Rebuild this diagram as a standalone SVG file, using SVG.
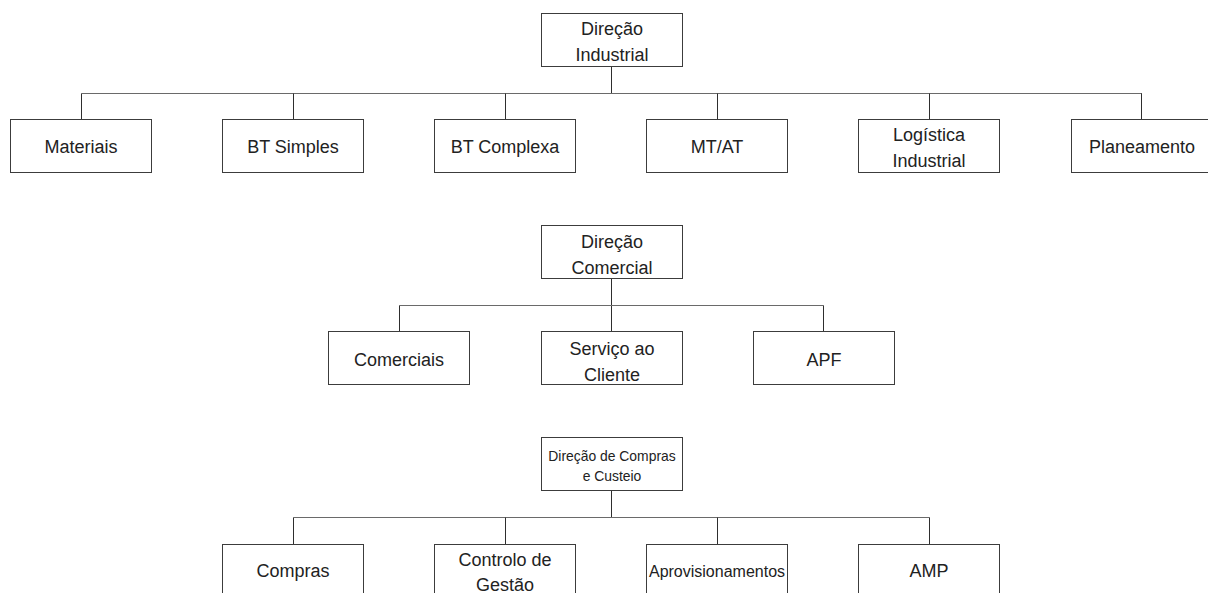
<svg xmlns="http://www.w3.org/2000/svg" width="1208" height="593" viewBox="0 0 1208 593">
<style>
.box{fill:#ffffff;stroke:#3c3c3c;stroke-width:1}
.t{font-family:"Liberation Sans",Arial,sans-serif;font-size:18px;fill:#222222;text-anchor:middle}
.ts{font-size:13.9px}
.tm{font-size:16px}
.h{stroke:#6a6a6a;stroke-width:1;fill:none}
.v{stroke:#2e2e2e;stroke-width:1;fill:none}
</style>
<rect width="1208" height="593" fill="#ffffff"/>
<g id="connectors">
<line class="v" x1="611.5" y1="66.5" x2="611.5" y2="93.5"/>
<line class="h" x1="81.5" y1="93.5" x2="1142" y2="93.5"/>
<line class="v" x1="81.5" y1="93.5" x2="81.5" y2="119.5"/>
<line class="v" x1="293.5" y1="93.5" x2="293.5" y2="119.5"/>
<line class="v" x1="505.5" y1="93.5" x2="505.5" y2="119.5"/>
<line class="v" x1="717.5" y1="93.5" x2="717.5" y2="119.5"/>
<line class="v" x1="929.5" y1="93.5" x2="929.5" y2="119.5"/>
<line class="v" x1="1141.5" y1="93.5" x2="1141.5" y2="119.5"/>
<line class="v" x1="611.5" y1="278.5" x2="611.5" y2="331.5"/>
<line class="h" x1="399.5" y1="305.5" x2="823.5" y2="305.5"/>
<line class="v" x1="399.5" y1="305.5" x2="399.5" y2="331.5"/>
<line class="v" x1="823.5" y1="305.5" x2="823.5" y2="331.5"/>
<line class="v" x1="611.5" y1="490.5" x2="611.5" y2="517.5"/>
<line class="h" x1="293.5" y1="517.5" x2="929.5" y2="517.5"/>
<line class="v" x1="293.5" y1="517.5" x2="293.5" y2="544.5"/>
<line class="v" x1="505.5" y1="517.5" x2="505.5" y2="544.5"/>
<line class="v" x1="717.5" y1="517.5" x2="717.5" y2="544.5"/>
<line class="v" x1="929.5" y1="517.5" x2="929.5" y2="544.5"/>
</g>
<g id="direcao-industrial">
<rect class="box" x="541.5" y="13.5" width="141" height="53"/>
<text class="t" x="612" y="35">Direção</text>
<text class="t" x="612" y="61">Industrial</text>
</g>
<g id="materiais">
<rect class="box" x="10.5" y="119.5" width="141" height="53"/>
<text class="t" x="81" y="153">Materiais</text>
</g>
<g id="bt-simples">
<rect class="box" x="222.5" y="119.5" width="141" height="53"/>
<text class="t" x="293" y="153">BT Simples</text>
</g>
<g id="bt-complexa">
<rect class="box" x="434.5" y="119.5" width="141" height="53"/>
<text class="t" x="505" y="153">BT Complexa</text>
</g>
<g id="mt-at">
<rect class="box" x="646.5" y="119.5" width="141" height="53"/>
<text class="t" x="717" y="153">MT/AT</text>
</g>
<g id="logistica-industrial">
<rect class="box" x="858.5" y="119.5" width="141" height="53"/>
<text class="t" x="929" y="141">Logística</text>
<text class="t" x="929" y="167">Industrial</text>
</g>
<g id="planeamento">
<rect class="box" x="1071.5" y="119.5" width="141" height="53"/>
<text class="t" x="1142" y="153">Planeamento</text>
</g>
<g id="direcao-comercial">
<rect class="box" x="541.5" y="225.5" width="141" height="53"/>
<text class="t" x="612" y="247.5">Direção</text>
<text class="t" x="612" y="273.5">Comercial</text>
</g>
<g id="comerciais">
<rect class="box" x="328.5" y="331.5" width="141" height="53"/>
<text class="t" x="399" y="365.5">Comerciais</text>
</g>
<g id="servico-cliente">
<rect class="box" x="541.5" y="331.5" width="141" height="53"/>
<text class="t" x="612" y="354.5">Serviço ao</text>
<text class="t" x="612" y="380.5">Cliente</text>
</g>
<g id="apf">
<rect class="box" x="753.5" y="331.5" width="141" height="53"/>
<text class="t" x="824" y="365.5">APF</text>
</g>
<g id="direcao-compras">
<rect class="box" x="541.5" y="437.5" width="141" height="53"/>
<text class="t ts" x="612" y="461">Direção de Compras</text>
<text class="t ts" x="612" y="480.5">e Custeio</text>
</g>
<g id="compras">
<rect class="box" x="222.5" y="544.5" width="141" height="53"/>
<text class="t" x="293" y="577">Compras</text>
</g>
<g id="controlo-gestao">
<rect class="box" x="434.5" y="544.5" width="141" height="53"/>
<text class="t" x="505" y="565.5">Controlo de</text>
<text class="t" x="505" y="591">Gestão</text>
</g>
<g id="aprovisionamentos">
<rect class="box" x="646.5" y="544.5" width="141" height="53"/>
<text class="t tm" x="717" y="576.5">Aprovisionamentos</text>
</g>
<g id="amp">
<rect class="box" x="858.5" y="544.5" width="141" height="53"/>
<text class="t" x="929" y="577">AMP</text>
</g>
</svg>
